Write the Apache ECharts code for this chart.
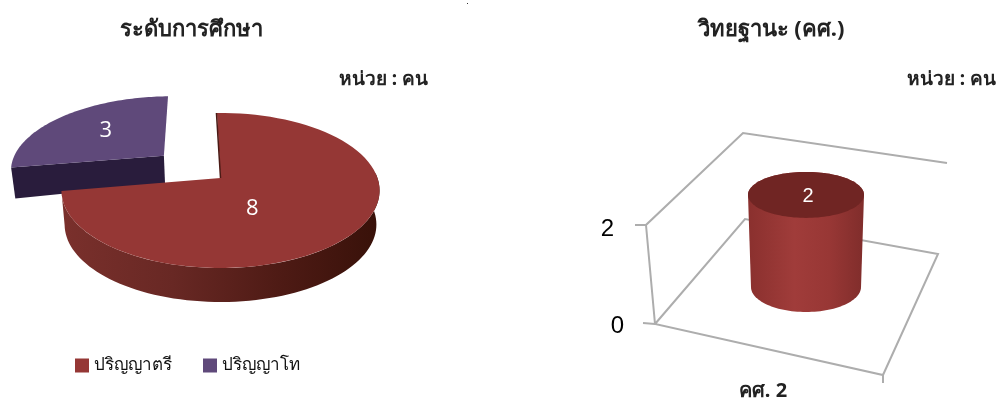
<!DOCTYPE html>
<html>
<head>
<meta charset="utf-8">
<style>
  html, body { margin: 0; padding: 0; background: #fff; }
  #chart { width: 998px; height: 401px; }
</style>
<script src="https://cdn.jsdelivr.net/npm/echarts@6/dist/echarts.min.js"></script>
</head>
<body>
<div id="chart"></div>
<script>
// ข้อมูล
var eduNames = ['ปริญญาตรี', 'ปริญญาโท'];
var eduValues = [8, 3];
var rankNames = ['คศ. 2'];
var rankValues = [2];
var rankTicks = [0, 2];

var THAI = '"Noto Sans", Tahoma, sans-serif';
var chart = echarts.init(document.getElementById('chart'));

// pie projection, circle seen in perspective
var CX = 220.5, CY = 178, RX = 157, RY = 75.5, P = 0.161;
var START = -1.5 * Math.PI / 180;
var EXPLODE = [0, 0.49];
var TOP_COLOR = ['#953735', '#5f497a'];
var LABEL_AT = [[0.19, -0.38], [-0.813, 0.695]];
var total = eduValues.reduce(function (a, b) { return a + b; }, 0);

function project(wx, wy) {
    var s = 1 / (1 + P * wy);
    return [CX + RX * wx * s, CY - RY * wy * s];
}
function lowered(wx, wy) {
    var p = project(wx, wy);
    return [CX + (p[0] - CX) * 0.98, p[1] + 34 - 20 * Math.max(wy, 0)];
}

function renderSlice(params, api) {
    var i = params.seriesIndex;
    var before = 0;
    for (var k = 0; k < i; k++) before += eduValues[k];
    var a0 = START + before / total * Math.PI * 2;
    var a1 = a0 + api.value(0) / total * Math.PI * 2;
    var mid = (a0 + a1) / 2;
    var ox = Math.sin(mid) * EXPLODE[i], oy = Math.cos(mid) * EXPLODE[i];
    var top = [project(ox, oy)];
    for (var n = 0; n <= 80; n++) {
        var t = a0 + (a1 - a0) * n / 80;
        top.push(project(ox + Math.sin(t), oy + Math.cos(t)));
    }
    var children = [];
    if (i === 0) {
        // outer wall, lit from the left
        var wall = [], back = [];
        for (var m = 0; m <= 80; m++) {
            var w = 1.5 + (a1 - 1.5) * m / 80;
            wall.push(project(Math.sin(w), Math.cos(w)));
            back.unshift(lowered(Math.sin(w), Math.cos(w)));
        }
        children.push({
            type: 'polygon',
            shape: { points: wall.concat(back) },
            style: {
                fill: new echarts.graphic.LinearGradient(0, 0, 1, 0, [
                    { offset: 0, color: '#7a302c' },
                    { offset: 0.35, color: '#682824' },
                    { offset: 0.7, color: '#4d1a14' },
                    { offset: 1, color: '#381109' }
                ])
            }
        });
    } else {
        // cut face
        var ex = ox + Math.sin(a0), ey = oy + Math.cos(a0);
        children.push({
            type: 'polygon',
            shape: { points: [project(ox, oy), project(ex, ey), lowered(ex, ey), lowered(ox, oy)] },
            style: { fill: '#291c3c' }
        });
    }
    children.push({ type: 'polygon', shape: { points: top }, style: { fill: TOP_COLOR[i] } });
    if (i === 0) {
        children.push({
            type: 'line',
            shape: { x1: top[0][0], y1: top[0][1], x2: top[1][0] - 0.5, y2: top[1][1] },
            style: { stroke: '#4a1a15', lineWidth: 1.5 }
        });
    }
    var lp = project(LABEL_AT[i][0], LABEL_AT[i][1]);
    children.push({
        type: 'text',
        x: lp[0], y: lp[1],
        style: { text: String(api.value(0)), fill: '#fff', fontSize: 22, fontFamily: '"Open Sans"', align: 'center', verticalAlign: 'middle' }
    });
    return { type: 'group', children: children };
}

// cylinder
function renderCylinder(params, api) {
    var base = api.coord([api.value(0), 0]);
    var head = api.coord([api.value(0), api.value(1)]);
    var cx = base[0];
    var yBottom = base[1] - 36;
    var yTop = yBottom - (base[1] - head[1]) * 0.94;
    var side = [], cap = [];
    var n, t;
    for (n = 0; n <= 60; n++) {
        t = Math.PI * n / 60;
        side.push([cx - 58 * Math.cos(t), yTop - 23 * Math.sin(t)]);
    }
    for (n = 60; n >= 0; n--) {
        t = Math.PI * n / 60;
        side.push([cx - 55 * Math.cos(t), yBottom + 25 * Math.sin(t)]);
    }
    for (n = 0; n < 120; n++) {
        t = Math.PI * n / 60;
        cap.push([cx + 58 * Math.cos(t), yTop + 23 * Math.sin(t)]);
    }
    return {
        type: 'group',
        children: [
            {
                type: 'polygon',
                shape: { points: side },
                style: {
                    fill: new echarts.graphic.LinearGradient(0, 0, 1, 0, [
                        { offset: 0, color: '#8a302e' },
                        { offset: 0.4, color: '#a03c3a' },
                        { offset: 0.7, color: '#983735' },
                        { offset: 1, color: '#802d2b' }
                    ])
                }
            },
            { type: 'polygon', shape: { points: cap }, style: { fill: '#702523' } },
            {
                type: 'text',
                x: cx + 2, y: yTop + 2,
                style: { text: String(api.value(1)), fill: '#fff', fontSize: 20, fontFamily: '"Liberation Sans"', align: 'center', verticalAlign: 'middle' }
            }
        ]
    };
}

function frameLine(pts) {
    return {
        type: 'polyline',
        z: 0,
        shape: { points: pts },
        style: { stroke: '#adadad', lineWidth: 2, fill: null }
    };
}

var option = {
    animation: false,
    backgroundColor: '#fff',
    title: [
        { text: 'ระดับการศึกษา', left: 191, top: 19, padding: 0, textAlign: 'center', textStyle: { fontSize: 22, fontWeight: 'bold', color: '#222', fontFamily: THAI } },
        { text: 'วิทยฐานะ (คศ.)', left: 771, top: 19, padding: 0, textAlign: 'center', textStyle: { fontSize: 22, fontWeight: 'bold', color: '#222', fontFamily: THAI } },
        { text: 'หน่วย : คน', left: 428, top: 70, padding: 0, textAlign: 'right', textStyle: { fontSize: 19, fontWeight: 'bold', color: '#222', fontFamily: THAI } },
        { text: 'หน่วย : คน', left: 996, top: 70, padding: 0, textAlign: 'right', textStyle: { fontSize: 19, fontWeight: 'bold', color: '#222', fontFamily: THAI } }
    ],
    legend: {
        left: 75,
        top: 357,
        padding: 0,
        icon: 'rect',
        itemWidth: 14,
        itemHeight: 14,
        itemGap: 31,
        itemStyle: { borderWidth: 0 },
        selectedMode: false,
        data: eduNames,
        textStyle: { fontSize: 17, color: '#111', fontFamily: THAI }
    },
    grid: { left: 646, width: 320, top: 225, height: 99 },
    xAxis: {
        type: 'category',
        data: rankNames,
        axisLine: { show: false },
        axisTick: { show: false },
        axisLabel: { margin: 58, padding: [0, 86, 0, 0], fontSize: 20, fontWeight: 'bold', color: '#222', fontFamily: THAI }
    },
    yAxis: {
        type: 'value',
        min: 0,
        max: 2,
        interval: 2,
        axisLine: { show: false },
        axisTick: { show: false },
        splitLine: { show: false },
        axisLabel: {
            margin: 22,
            formatter: function (v) { return v === rankTicks[1] ? '{far|' + v + '}' : '{near|' + v + '}'; },
            rich: {
                near: { fontSize: 24, color: '#000', fontFamily: '"Liberation Sans"', padding: [7, 0, 0, 0] },
                far: { fontSize: 24, color: '#000', fontFamily: '"Liberation Sans"', padding: [8, 10, 0, 0] }
            }
        }
    },
    graphic: [
        frameLine([[947, 163], [743, 133], [646, 225], [655, 324], [883, 375], [938, 254], [745, 219], [655, 324]]),
        frameLine([[635, 225], [646, 225]]),
        frameLine([[643, 323], [655, 324]]),
        frameLine([[883, 375], [883, 383]]),
        { type: 'rect', shape: { x: 467, y: 3, width: 1, height: 1 }, style: { fill: '#333' } }
    ],
    series: [
        {
            name: eduNames[0], type: 'custom', coordinateSystem: 'none', z: 5,
            itemStyle: { color: TOP_COLOR[0] },
            renderItem: renderSlice, data: [[eduValues[0]]]
        },
        {
            name: eduNames[1], type: 'custom', coordinateSystem: 'none', z: 4,
            itemStyle: { color: TOP_COLOR[1] },
            renderItem: renderSlice, data: [[eduValues[1]]]
        },
        {
            type: 'custom', coordinateSystem: 'cartesian2d', z: 5,
            renderItem: renderCylinder,
            encode: { x: 0, y: 1 },
            data: rankValues.map(function (v, i) { return [i, v]; })
        }
    ]
};
chart.setOption(option);
</script>
</body>
</html>
